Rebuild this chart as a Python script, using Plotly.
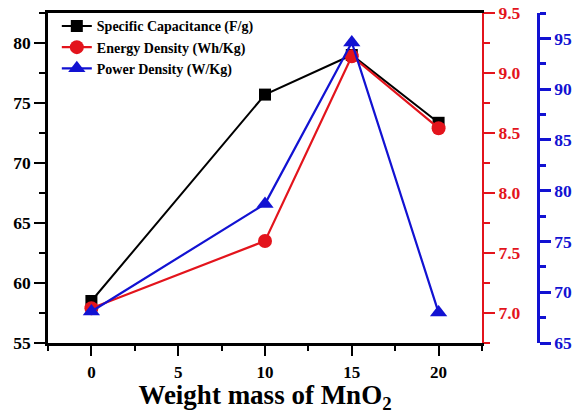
import plotly.graph_objects as go

x_mass = [0, 10, 15, 20]
specific_capacitance = [58.5, 75.7, 79.0, 73.35]
energy_density = [7.04, 7.6, 9.14, 8.54]
power_density = [68.1, 78.7, 94.6, 68.0]

FONT = "Liberation Serif"
BLACK = "#000000"
RED = "#e3141c"
BLUE = "#1212d2"

fig = go.Figure()
fig.add_trace(go.Scatter(
    x=x_mass, y=specific_capacitance, name="Specific Capacitance (F/g)",
    mode="lines+markers", line=dict(color=BLACK, width=2),
    marker=dict(symbol="square", size=12, color=BLACK), yaxis="y"))
fig.add_trace(go.Scatter(
    x=x_mass, y=energy_density, name="Energy Density (Wh/Kg)",
    mode="lines+markers", line=dict(color=RED, width=2.2),
    marker=dict(symbol="circle", size=14, color=RED), yaxis="y2"))
fig.add_trace(go.Scatter(
    x=x_mass, y=power_density, name="Power Density (W/Kg)",
    mode="lines+markers", line=dict(color=BLUE, width=2.2),
    marker=dict(symbol="triangle-up", size=15, color=BLUE), yaxis="y3"))

tickfont = lambda c: dict(family=FONT, size=17.5, color=c, weight="bold")

fig.update_layout(
    width=579, height=414,
    margin=dict(l=48, r=41, t=13, b=71, autoexpand=False),
    paper_bgcolor="white", plot_bgcolor="white",
    showlegend=True,
    legend=dict(x=0.018, y=1.008, xanchor="left", yanchor="top",
                bgcolor="rgba(0,0,0,0)", tracegroupgap=0,
                font=dict(family=FONT, size=14, color=BLACK, weight="bold")),
    xaxis=dict(
        domain=[0, 0.8857], range=[-2.5, 22.5], automargin=False,
        showline=True, linecolor=BLACK, linewidth=2.5, mirror=True,
        ticks="outside", ticklen=10, tickwidth=2, tickcolor=BLACK,
        tick0=0, dtick=5, showgrid=False, zeroline=False,
        minor=dict(ticks="outside", ticklen=5, tickwidth=2, tickcolor=BLACK, dtick=2.5, tick0=0),
        tickfont=dict(family=FONT, size=17, color=BLACK, weight="bold"),
        ticklabelstandoff=2,
        title=dict(text="Weight mass of MnO<sub>2</sub>", standoff=9,
                   font=dict(family=FONT, size=27, color=BLACK, weight="bold")),
    ),
    yaxis=dict(
        range=[55, 82.5], automargin=False, showline=True, linecolor=BLACK, linewidth=2.5,
        ticks="outside", ticklen=11, tickwidth=2, tickcolor=BLACK,
        tick0=55, dtick=5, showgrid=False, zeroline=False,
        minor=dict(ticks="outside", ticklen=6, tickwidth=2, tickcolor=BLACK, dtick=2.5, tick0=55),
        tickfont=tickfont(BLACK),
    ),
    yaxis2=dict(
        overlaying="y", anchor="x", side="right", automargin=False,
        range=[6.75, 9.5], showline=True, linecolor=RED, linewidth=2,
        ticks="outside", ticklen=11, tickwidth=2, tickcolor=RED,
        tick0=7, dtick=0.5, tickformat=".1f", showgrid=False, zeroline=False,
        minor=dict(ticks="outside", ticklen=6, tickwidth=2, tickcolor=RED, dtick=0.25, tick0=7),
        tickfont=tickfont(RED),
    ),
    yaxis3=dict(
        overlaying="y", anchor="free", position=1.0, side="right", automargin=False,
        range=[65, 97.5], showline=True, linecolor=BLUE, linewidth=2.5,
        ticks="outside", ticklen=11, tickwidth=2.5, tickcolor=BLUE,
        tick0=65, dtick=5, showgrid=False, zeroline=False,
        minor=dict(ticks="outside", ticklen=6, tickwidth=2.5, tickcolor=BLUE, dtick=2.5, tick0=65),
        tickfont=tickfont(BLUE),
    ),
)

fig.write_html("out.html")
